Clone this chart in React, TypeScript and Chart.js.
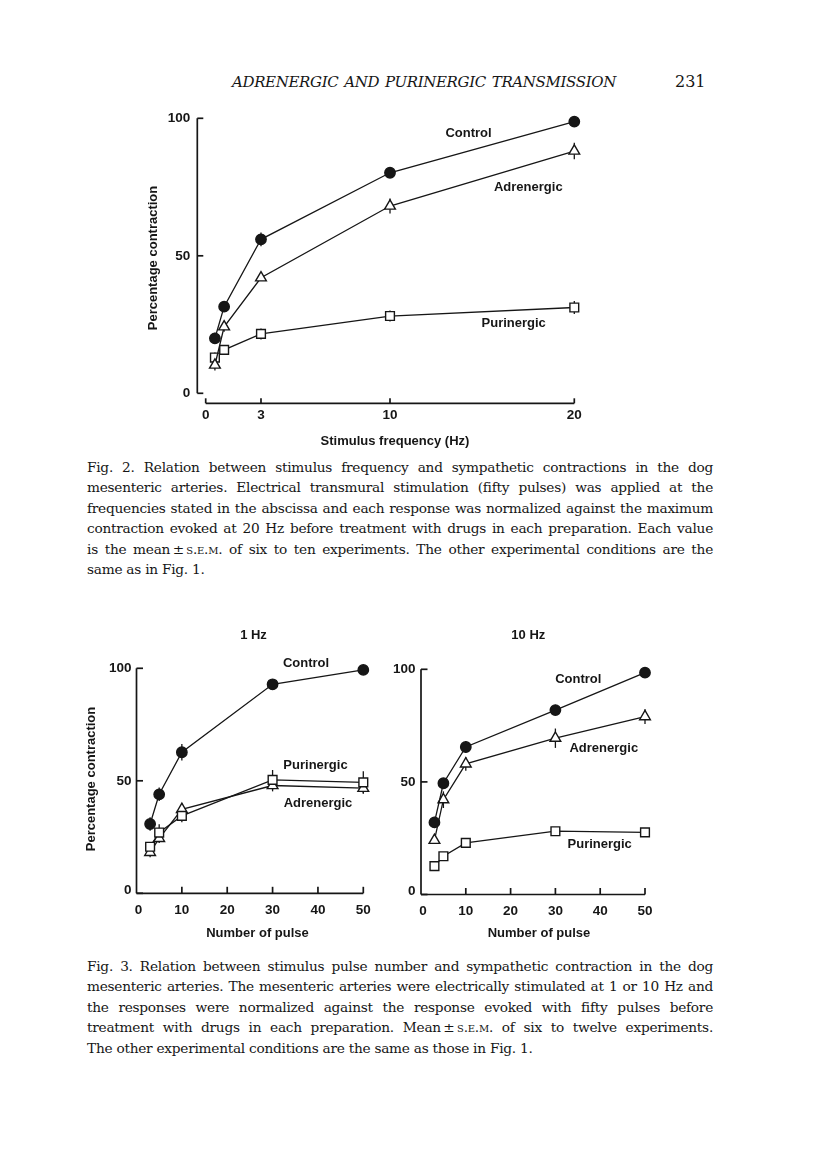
import React, { useEffect, useRef } from "react";
import { Chart, registerables } from "chart.js";
Chart.register(...registerables);

// ---------- DATA ----------
// Fig. 2 : stimulus frequency (Hz)
const fig2Freq = [0.5, 1, 3, 10, 20];
const fig2Control = [20, 31.5, 56, 80.2, 98.8];
const fig2ControlSem = [2, 1.2, 2.5, 1, 1];
const fig2Adrenergic = [10.3, 24.2, 42, 68.1, 88.1];
const fig2AdrenergicSem = [2, 1.8, 1, 2.7, 3];
const fig2Purinergic = [13, 15.8, 21.6, 28.1, 31.2];
const fig2PurinergicSem = [1.8, 1.5, 2, 2, 2.4];
const fig2XTicks = [0, 3, 10, 20];

// Fig. 3 : number of pulses
const pulses = [3, 5, 10, 30, 50];
const pulseXTicks = [0, 10, 20, 30, 40, 50];
const yTicks = [0, 50, 100];

const hz1Control = [30.8, 44, 62.7, 92.9, 99.3];
const hz1ControlSem = [3, 3, 3.7, 2, 1];
const hz1Purinergic = [20.7, 27, 34.4, 50.4, 49.3];
const hz1PurinergicSem = [2, 3.7, 2.8, 4.4, 5];
const hz1Adrenergic = [18.2, 24.4, 37.3, 47.9, 46.7];
const hz1AdrenergicSem = [2.2, 2, 2.6, 2.6, 2.2];

const hz10Control = [32, 49.4, 65.5, 81.9, 98.5];
const hz10ControlSem = [2.5, 2.2, 2.6, 1, 1];
const hz10Adrenergic = [24.1, 42.1, 58, 69.4, 79];
const hz10AdrenergicSem = [1.5, 3.7, 3, 4.3, 3.3];
const hz10Purinergic = [12.6, 17, 22.9, 28.1, 27.6];
const hz10PurinergicSem = [1, 1, 1, 1, 1];

// ---------- STYLE / LAYOUT ----------
const INK = "#161616";
const FONT = '"Liberation Sans", Arial, Helvetica, sans-serif';
const SERIF = '"DejaVu Serif", "Century Schoolbook", serif';

type Marker = "circle" | "triangle" | "rect";
type SeriesDef = { y: number[]; sem: number[]; marker: Marker };
type TextDef = { text: string; x: number; y: number; rotate?: boolean };
type PanelDef = {
  box: { left: number; top: number; width: number; height: number };
  padding: { left: number; right: number; top: number; bottom: number };
  x: number[];
  xMin: number;
  xMax: number;
  xTicks: number[];
  xTickLabels: number[];
  series: SeriesDef[];
  yAxisGap: number;
  xAxisDrop: number;
  xAxisFrom: "axis" | "zero";
  yTickLen: number;
  xTickLen: number;
  xLabelDy: number;
  yLabelGap: number;
  texts: TextDef[]; // page coordinates
};

const markerRadius: Record<Marker, number> = { circle: 5.2, triangle: 6.2, rect: 6.2 };

const panels: PanelDef[] = [
  {
    box: { left: 140, top: 95, width: 480, height: 360 },
    padding: { left: 65.7, right: 45.7, top: 23.3, bottom: 61.7 },
    x: fig2Freq,
    xMin: 0,
    xMax: 20,
    xTicks: fig2XTicks,
    xTickLabels: fig2XTicks,
    series: [
      { y: fig2Control, sem: fig2ControlSem, marker: "circle" },
      { y: fig2Adrenergic, sem: fig2AdrenergicSem, marker: "triangle" },
      { y: fig2Purinergic, sem: fig2PurinergicSem, marker: "rect" },
    ],
    yAxisGap: 8.4,
    xAxisDrop: 10,
    xAxisFrom: "zero",
    yTickLen: 6,
    xTickLen: 5,
    xLabelDy: 12,
    yLabelGap: 7,
    texts: [
      { text: "Control", x: 468.5, y: 133 },
      { text: "Adrenergic", x: 528.3, y: 187 },
      { text: "Purinergic", x: 513.7, y: 323 },
      { text: "Percentage contraction", x: 153, y: 258, rotate: true },
      { text: "Stimulus frequency (Hz)", x: 395, y: 441.7 },
    ],
  },
  {
    box: { left: 70, top: 620, width: 310, height: 330 },
    padding: { left: 66.5, right: 16.7, top: 48.3, bottom: 56.7 },
    x: pulses,
    xMin: 0,
    xMax: 50,
    xTicks: pulseXTicks.slice(1),
    xTickLabels: pulseXTicks,
    series: [
      { y: hz1Control, sem: hz1ControlSem, marker: "circle" },
      { y: hz1Purinergic, sem: hz1PurinergicSem, marker: "rect" },
      { y: hz1Adrenergic, sem: hz1AdrenergicSem, marker: "triangle" },
    ],
    yAxisGap: 0,
    xAxisDrop: 0,
    xAxisFrom: "axis",
    yTickLen: 6.5,
    xTickLen: 6.5,
    xLabelDy: 16.5,
    yLabelGap: 5,
    texts: [
      { text: "1 Hz", x: 253.5, y: 635 },
      { text: "Control", x: 306, y: 663 },
      { text: "Purinergic", x: 315.5, y: 765 },
      { text: "Adrenergic", x: 318, y: 803 },
      { text: "Percentage contraction", x: 91.7, y: 779, rotate: true },
      { text: "Number of pulse", x: 257.5, y: 933 },
    ],
  },
  {
    box: { left: 385, top: 620, width: 295, height: 330 },
    padding: { left: 36, right: 35, top: 49.3, bottom: 55.5 },
    x: pulses,
    xMin: 0,
    xMax: 50,
    xTicks: pulseXTicks.slice(1),
    xTickLabels: pulseXTicks,
    series: [
      { y: hz10Control, sem: hz10ControlSem, marker: "circle" },
      { y: hz10Adrenergic, sem: hz10AdrenergicSem, marker: "triangle" },
      { y: hz10Purinergic, sem: hz10PurinergicSem, marker: "rect" },
    ],
    yAxisGap: 0,
    xAxisDrop: 0,
    xAxisFrom: "axis",
    yTickLen: 6.5,
    xTickLen: 6.5,
    xLabelDy: 16.5,
    yLabelGap: 5.5,
    texts: [
      { text: "10 Hz", x: 528.3, y: 635 },
      { text: "Control", x: 578.3, y: 679.3 },
      { text: "Adrenergic", x: 603.8, y: 748.3 },
      { text: "Purinergic", x: 599.7, y: 844 },
      { text: "Number of pulse", x: 539, y: 933 },
    ],
  },
];

function paperPlugin(p: PanelDef) {
  return {
    id: "paperAxes",
    beforeDatasetsDraw(chart: any) {
      const ctx: CanvasRenderingContext2D = chart.ctx;
      const xs = chart.scales.x;
      const ys = chart.scales.y;
      const area = chart.chartArea;
      ctx.save();
      ctx.strokeStyle = INK;
      ctx.fillStyle = INK;
      ctx.lineCap = "butt";

      // error bars
      ctx.lineWidth = 1.3;
      p.series.forEach((s) => {
        s.y.forEach((v, i) => {
          const px = xs.getPixelForValue(p.x[i]);
          ctx.beginPath();
          ctx.moveTo(px, ys.getPixelForValue(v - s.sem[i]));
          ctx.lineTo(px, ys.getPixelForValue(v + s.sem[i]));
          ctx.stroke();
        });
      });

      // y axis
      const ax = area.left - p.yAxisGap;
      const y0 = ys.getPixelForValue(0);
      const y100 = ys.getPixelForValue(100);
      ctx.lineWidth = 1.7;
      ctx.beginPath();
      ctx.moveTo(ax, y100);
      ctx.lineTo(ax, y0);
      ctx.stroke();
      yTicks.forEach((t) => {
        const py = ys.getPixelForValue(t);
        ctx.beginPath();
        ctx.moveTo(ax, py);
        ctx.lineTo(ax + p.yTickLen, py);
        ctx.stroke();
      });

      // x axis
      const ay = y0 + p.xAxisDrop;
      const xStart = p.xAxisFrom === "axis" ? ax : xs.getPixelForValue(p.xMin);
      ctx.beginPath();
      ctx.moveTo(xStart, ay);
      ctx.lineTo(xs.getPixelForValue(p.xMax), ay);
      ctx.stroke();
      p.xTicks.forEach((t) => {
        const px = xs.getPixelForValue(t);
        ctx.beginPath();
        ctx.moveTo(px, ay);
        ctx.lineTo(px, ay - p.xTickLen);
        ctx.stroke();
      });

      // tick labels
      ctx.font = `bold 13.5px ${FONT}`;
      ctx.textBaseline = "middle";
      ctx.textAlign = "right";
      yTicks.forEach((t) => {
        ctx.fillText(String(t), ax - p.yLabelGap, ys.getPixelForValue(t) - (t === 0 && p.xAxisDrop === 0 ? 3 : 0));
      });
      ctx.textAlign = "center";
      p.xTickLabels.forEach((t) => {
        ctx.fillText(String(t), xs.getPixelForValue(t) + (t === 0 && p.xAxisDrop === 0 ? 2 : 0), ay + p.xLabelDy);
      });

      // texts
      ctx.font = `bold 13px ${FONT}`;
      p.texts.forEach((t) => {
        const cx = t.x - p.box.left;
        const cy = t.y - p.box.top;
        if (t.rotate) {
          ctx.save();
          ctx.translate(cx, cy);
          ctx.rotate(-Math.PI / 2);
          ctx.fillText(t.text, 0, 0);
          ctx.restore();
        } else {
          ctx.fillText(t.text, cx, cy);
        }
      });
      ctx.restore();
    },
  };
}

function Panel({ def }: { def: PanelDef }) {
  const ref = useRef<HTMLCanvasElement>(null);
  useEffect(() => {
    if (!ref.current) return;
    const chart = new Chart(ref.current, {
      type: "line",
      data: {
        datasets: def.series.map((s) => ({
          data: def.x.map((x, i) => ({ x, y: s.y[i] })),
          borderColor: INK,
          borderWidth: 1.3,
          pointStyle: s.marker,
          pointRadius: markerRadius[s.marker],
          pointBackgroundColor: s.marker === "circle" ? INK : "#ffffff",
          pointBorderColor: INK,
          pointBorderWidth: 1.4,
          tension: 0,
          clip: false as any,
          fill: false,
        })),
      },
      options: {
        responsive: false,
        animation: false,
        events: [],
        layout: { padding: def.padding },
        plugins: { legend: { display: false }, tooltip: { enabled: false }, title: { display: false } },
        scales: {
          x: { type: "linear", min: def.xMin, max: def.xMax, display: false },
          y: { type: "linear", min: 0, max: 100, display: false },
        },
      },
      plugins: [paperPlugin(def)],
    });
    return () => chart.destroy();
  }, [def]);
  return (
    <canvas
      ref={ref}
      width={def.box.width}
      height={def.box.height}
      style={{ position: "absolute", left: def.box.left, top: def.box.top, width: def.box.width, height: def.box.height }}
    />
  );
}

const fig2Caption = [
  "Fig. 2. Relation between stimulus frequency and sympathetic contractions in the dog",
  "mesenteric arteries. Electrical transmural stimulation (fifty pulses) was applied at the",
  "frequencies stated in the abscissa and each response was normalized against the maximum",
  "contraction evoked at 20 Hz before treatment with drugs in each preparation. Each value",
  "is the mean\u2009±\u2009s.e.m. of six to ten experiments. The other experimental conditions are the",
  "same as in Fig. 1.",
];
const fig3Caption = [
  "Fig. 3. Relation between stimulus pulse number and sympathetic contraction in the dog",
  "mesenteric arteries. The mesenteric arteries were electrically stimulated at 1 or 10 Hz and",
  "the responses were normalized against the response evoked with fifty pulses before",
  "treatment with drugs in each preparation. Mean\u2009±\u2009s.e.m. of six to twelve experiments.",
  "The other experimental conditions are the same as those in Fig. 1.",
];

function renderLine(line: string) {
  const parts = line.split("s.e.m.");
  if (parts.length === 1) return line;
  return (
    <>
      {parts[0]}
      <span style={{ fontVariant: "small-caps" }}>s.e.m.</span>
      {parts[1]}
    </>
  );
}

function Caption({ lines, top }: { lines: string[]; top: number }) {
  return (
    <>
      {lines.map((l, i) => {
        const last = i === lines.length - 1;
        return (
          <div
            key={i}
            style={{
              position: "absolute",
              left: 87,
              top: top + i * 20.45 - 10,
              width: 626,
              height: 20,
              lineHeight: "20px",
              fontFamily: SERIF,
              fontSize: 13.7,
              letterSpacing: -0.25,
              color: INK,
              whiteSpace: "nowrap",
              textAlign: last ? "left" : "justify",
              textAlignLast: last ? "left" : "justify",
            } as React.CSSProperties}
          >
            {renderLine(l)}
          </div>
        );
      })}
    </>
  );
}

export default function App() {
  return (
    <div style={{ position: "absolute", left: 0, top: 0, width: 816, height: 1170, background: "#fff", overflow: "hidden" }}>
      <div
        style={{
          position: "absolute",
          left: 232,
          top: 72,
          width: 384,
          height: 20,
          lineHeight: "20px",
          fontFamily: SERIF,
          fontStyle: "italic",
          fontSize: 15,
          letterSpacing: -0.35,
          color: INK,
          whiteSpace: "nowrap",
          textAlign: "justify",
          textAlignLast: "justify",
        } as React.CSSProperties}
      >
        ADRENERGIC AND PURINERGIC TRANSMISSION
      </div>
      <div
        style={{
          position: "absolute",
          left: 675,
          top: 72,
          lineHeight: "20px",
          fontFamily: SERIF,
          fontSize: 16,
          color: INK,
        }}
      >
        231
      </div>
      {panels.map((p, i) => (
        <Panel key={i} def={p} />
      ))}
      <Caption lines={fig2Caption} top={467} />
      <Caption lines={fig3Caption} top={966} />
    </div>
  );
}
